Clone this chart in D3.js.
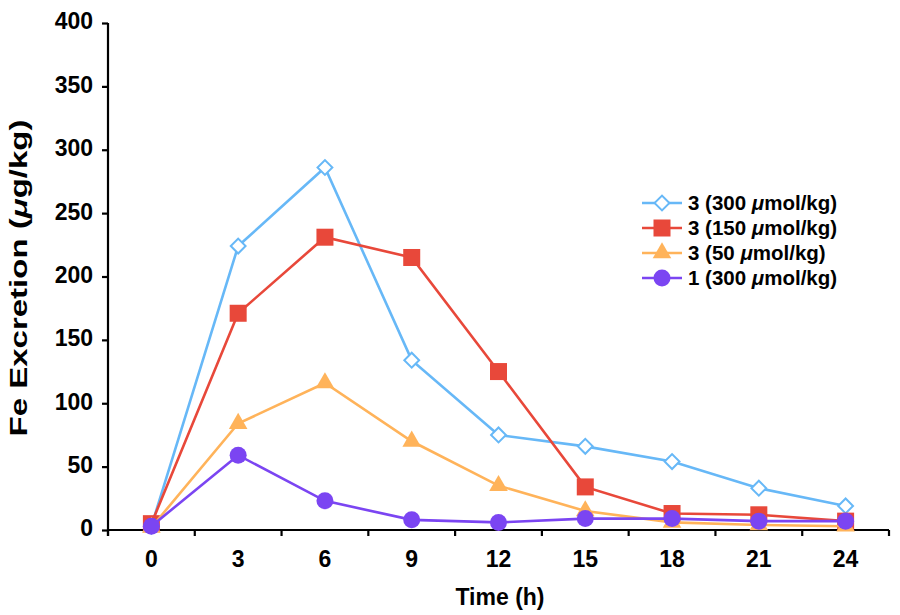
<!DOCTYPE html>
<html><head><meta charset="utf-8">
<script src="https://cdn.jsdelivr.net/npm/d3@7"></script>
<style>body{margin:0;background:#fff}svg{display:block}text{font-family:"Liberation Sans",Arial,Helvetica,sans-serif;font-weight:bold;fill:#000}</style>
</head><body><svg id="c" width="900" height="615"></svg>
<script>
const times = [0, 3, 6, 9, 12, 15, 18, 21, 24];
const yTicks = [0, 50, 100, 150, 200, 250, 300, 350, 400];
const s300 = [3, 224, 286, 134, 75, 66, 54, 33, 19];
const s150 = [5, 171, 231, 215, 125, 34, 13, 12, 7];
const s50 = [2, 84, 116, 70, 35, 15, 6, 4, 3];
const c300 = [3, 59, 23, 8, 6, 9, 9, 7, 7];
const seriesNames = ["3 (300 ", "3 (150 ", "3 (50 ", "1 (300 "];

const series = [
  {name: seriesNames[0], values: s300, color: "#67b8f7", shape: "diamond"},
  {name: seriesNames[1], values: s150, color: "#e8483a", shape: "square"},
  {name: seriesNames[2], values: s50, color: "#ffb35a", shape: "triangle"},
  {name: seriesNames[3], values: c300, color: "#7b45f2", shape: "circle"}
];

const svg = d3.select("#c");
const L = 108, R = 889, T = 23, B = 530;
const x = d3.scaleBand().domain(times).range([L, R]);
const y = d3.scaleLinear().domain([0, 400]).range([B, T]);
const cx = t => x(t) + x.bandwidth() / 2;

// y axis
const ya = svg.append("g").attr("transform", `translate(${L},0)`)
  .call(d3.axisLeft(y).tickValues(yTicks).tickSize(6).tickSizeOuter(0));
ya.select(".domain").attr("stroke", "#000").attr("stroke-width", 2.2).attr("d", `M0,${T}V${B+6}`);
ya.selectAll(".tick line").attr("stroke", "#000").attr("stroke-width", 2.2);
ya.selectAll(".tick text").attr("x", -15).attr("dy", "0.26em").style("font-size", "23px");

// x axis
const xa = svg.append("g").attr("transform", `translate(0,${B})`)
  .call(d3.axisBottom(x).tickSize(0).tickPadding(0));
xa.select(".domain").attr("stroke", "#000").attr("stroke-width", 2.2).attr("d", `M${L},0H${R}`);
xa.selectAll(".tick text").attr("y", 37).attr("dy", 0).style("font-size", "23px");
const bounds = times.map(t => x(t)).concat([R]);
xa.selectAll(".bt").data(bounds).enter().append("line").attr("class", "bt")
  .attr("x1", d => d).attr("x2", d => d).attr("y1", 0).attr("y2", 6)
  .attr("stroke", "#000").attr("stroke-width", 2.2);

// titles
svg.append("text").attr("x", 500).attr("y", 605).attr("text-anchor", "middle")
  .style("font-size", "23px").text("Time (h)");
const yt = svg.append("text").attr("transform", `translate(27,278) rotate(-90)`)
  .attr("text-anchor", "middle").style("font-size", "23px")
  .attr("textLength", 317).attr("lengthAdjust", "spacingAndGlyphs");
yt.append("tspan").text("Fe Excretion (");
yt.append("tspan").style("font-style", "italic").text("μ");
yt.append("tspan").text("g/kg)");

function marker(g, shape, color, px, py) {
  if (shape === "diamond") {
    g.append("path").attr("d", d3.symbol(d3.symbolSquare, 110)())
      .attr("transform", `translate(${px},${py}) rotate(45)`)
      .attr("fill", "#fff").attr("stroke", color).attr("stroke-width", 2);
  } else if (shape === "square") {
    g.append("rect").attr("x", px - 8.5).attr("y", py - 8.5).attr("width", 17).attr("height", 17).attr("fill", color);
  } else if (shape === "triangle") {
    g.append("path").attr("d", d3.symbol(d3.symbolTriangle, 150)())
      .attr("transform", `translate(${px},${py})`).attr("fill", color);
  } else {
    g.append("circle").attr("cx", px).attr("cy", py).attr("r", 8.5).attr("fill", color);
  }
}

const line = d3.line().x((d, i) => cx(times[i])).y(d => y(d));
series.forEach(s => {
  const g = svg.append("g");
  g.append("path").datum(s.values).attr("d", line).attr("fill", "none")
    .attr("stroke", s.color).attr("stroke-width", 2.6);
  s.values.forEach((v, i) => marker(g, s.shape, s.color, cx(times[i]), y(v)));
});

// legend
const lg = svg.append("g");
series.forEach((s, i) => {
  const ly = 203 + i * 25;
  lg.append("line").attr("x1", 642).attr("x2", 682).attr("y1", ly).attr("y2", ly)
    .attr("stroke", s.color).attr("stroke-width", 2.6);
  marker(lg, s.shape, s.color, 662, ly);
  const t = lg.append("text").attr("x", 688).attr("y", ly).attr("dy", "0.36em").style("font-size", "20.5px");
  t.append("tspan").text(s.name);
  t.append("tspan").style("font-style", "italic").text("μ");
  t.append("tspan").text("mol/kg)");
});
</script></body></html>
